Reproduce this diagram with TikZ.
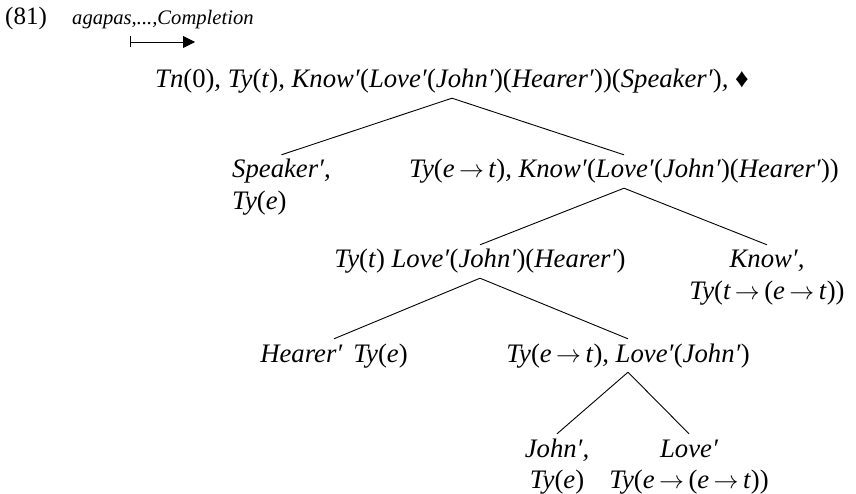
\documentclass[tikz,border=0pt]{standalone}
\usepackage{fontspec}
\setmainfont{Liberation Serif}
\usetikzlibrary{arrows.meta}
% upright parentheses around an italic argument
\newcommand\parg[1]{\textup{(}#1\textup{)}}
% type arrow
\newcommand\tyarr{\,$\rightarrow$\,}
\begin{document}
\begin{tikzpicture}[x=1pt,y=-1pt,
  lbl/.style={font=\fontsize{26.7}{32}\selectfont\itshape, inner sep=0pt, anchor=base},
  tnode/.style={lbl, text height=19pt, text depth=6pt, inner ysep=4pt},
  edge/.style={line width=0.9pt}]
\useasboundingbox (0,0) rectangle (856,494);

% example number and rule sequence
\node[lbl, anchor=base west, font=\fontsize{25}{30}\selectfont\upshape] (exnum) at (5,25) {(81)};
\node[lbl, anchor=base west, font=\fontsize{20.6}{24}\selectfont\itshape] (rules) at (72,25) {agapas,...,Completion};
\coordinate (arrS) at (130,42);
\coordinate (arrE) at (195,42);
\draw[edge, {Bar[width=11pt]}-{Triangle[length=12pt,width=12pt]}] (arrS) -- (arrE);

% tree nodes
\node[tnode] (root) at (452,88) {Tn\parg{\textup{0}}, Ty\parg{t}, Know′\parg{Love′\parg{John′}\parg{Hearer′}}\parg{Speaker′}, {\upshape ♦}};

\node[tnode, anchor=base west] (spk) at (232,178) {Speaker′,};
\node[lbl, anchor=base west] (spkty) at (232,210) {Ty\parg{e}};
\node[tnode] (kn) at (624,178) {Ty\parg{e\tyarr t}, Know′\parg{Love′\parg{John′}\parg{Hearer′}}};

\node[tnode] (lv) at (480,268) {Ty\parg{t} Love′\parg{John′}\parg{Hearer′}};
\node[tnode] (knw) at (767,268) {Know′,};
\node[lbl] (knwty) at (767,299) {Ty\parg{t\tyarr\parg{e\tyarr t}}};

\node[tnode] (hr) at (334,362) {Hearer′\,\ Ty\parg{e}};
\node[tnode] (lj) at (628,362) {Ty\parg{e\tyarr t}, Love′\parg{John′}};

\node[tnode] (jn) at (557,457) {John′,};
\node[lbl] (jnty) at (557,488) {Ty\parg{e}};
\node[tnode] (lo) at (689,457) {Love′};
\node[lbl] (loty) at (689,488) {Ty\parg{e\tyarr\parg{e\tyarr t}}};

% branches
\draw[edge] (root.south) -- (spk.north);
\draw[edge] (root.south) -- (kn.north);
\draw[edge] (kn.south) -- (lv.north);
\draw[edge] (kn.south) -- (knw.north);
\draw[edge] (lv.south) -- (hr.north);
\draw[edge] (lv.south) -- (lj.north);
\draw[edge] (lj.south) -- (jn.north);
\draw[edge] (lj.south) -- (lo.north);
\end{tikzpicture}
\end{document}
